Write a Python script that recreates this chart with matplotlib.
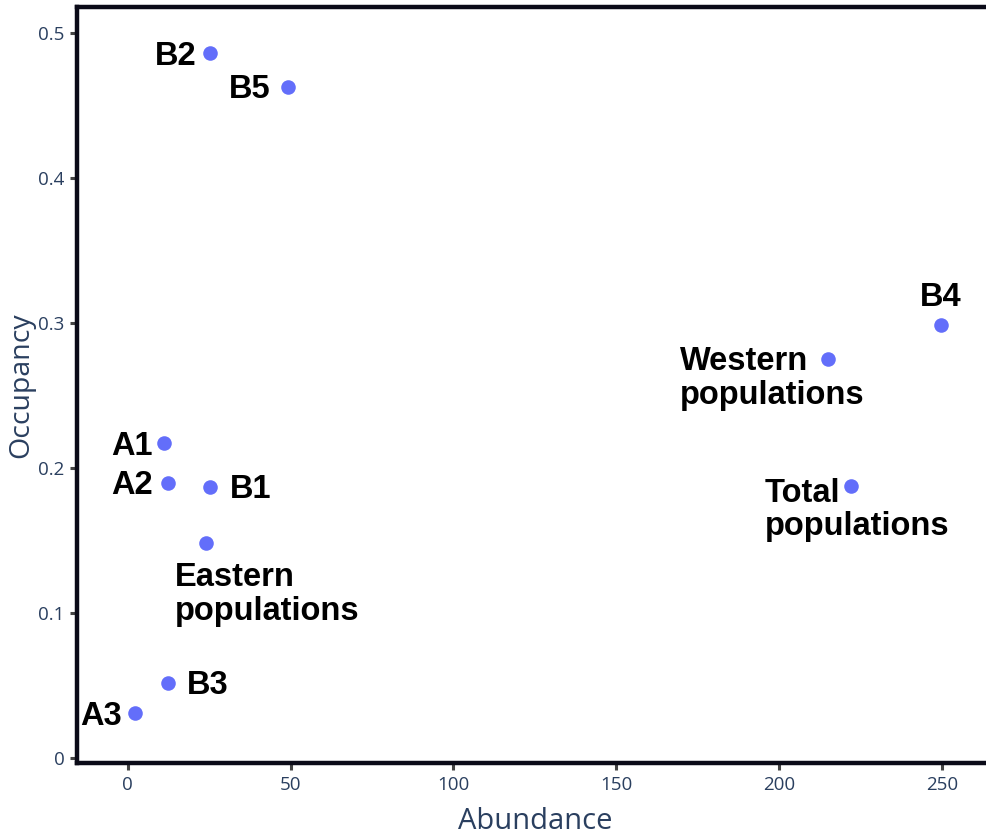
import matplotlib
matplotlib.use("Agg")
from matplotlib import pyplot as plt

# data
names = ["B2", "B5", "B4", "Western\npopulations", "Total\npopulations",
         "A1", "A2", "B1", "Eastern\npopulations", "B3", "A3"]
abundance = [25.2, 49.1, 249.7, 215.0, 222.0, 11.0, 12.3, 25.2, 23.9, 12.3, 2.1]
occupancy = [0.486, 0.463, 0.299, 0.275, 0.188, 0.217, 0.190, 0.187, 0.148, 0.052, 0.031]

# label placement (pixel offsets from each point, alignment)
label_pos = [(-13, -3, "right", "center"), (-17, -3, "right", "center"),
             (0, 12, "center", "bottom"), (-148, 13, "left", "top"),
             (-86, 8, "left", "top"), (-11, -3, "right", "center"),
             (-15, -3, "right", "center"), (20, -3, "left", "center"),
             (-31, -19, "left", "top"), (19, -3, "left", "center"),
             (-13, -3, "right", "center")]

axis_col = "#2a3f5f"

fig = plt.figure(figsize=(9.86, 8.36), dpi=100)
ax = fig.add_axes([0.078, 0.0873, 0.93, 0.9043])

ax.scatter(abundance, occupancy, s=110, color="#636efa", zorder=3, linewidths=0)

for name, x, y, (dx, dy, ha, va) in zip(names, abundance, occupancy, label_pos):
    ax.annotate(name, (x, y), xytext=(dx, dy), textcoords="offset pixels",
                ha=ha, va=va, fontsize=23.5, fontweight="bold",
                family=["Liberation Sans", "DejaVu Sans"], color="black",
                linespacing=1.12, zorder=4)

ax.set_xlim(-15.6, 266)
ax.set_ylim(-0.0034, 0.518)
ax.set_xticks([0, 50, 100, 150, 200, 250])
ax.set_yticks([0, 0.1, 0.2, 0.3, 0.4, 0.5])
ax.set_xticklabels(["0", "50", "100", "150", "200", "250"])
ax.set_yticklabels(["0", "0.1", "0.2", "0.3", "0.4", "0.5"])

for side in ["left", "bottom", "top"]:
    ax.spines[side].set_linewidth(3.2)
    ax.spines[side].set_color("#0b0b18")
ax.spines["right"].set_visible(False)

ax.tick_params(axis="both", direction="out", length=5, width=2.2, color="#444444",
               labelsize=13.5, labelcolor=axis_col, pad=4)
for lbl in ax.get_xticklabels() + ax.get_yticklabels():
    lbl.set_family("Open Sans")

ax.set_xlabel("Abundance", fontsize=21, color=axis_col, family="Open Sans", labelpad=10)
ax.set_ylabel("Occupancy", fontsize=20.5, color=axis_col, family="Open Sans", labelpad=2)

fig.savefig("out.png", dpi=100)
